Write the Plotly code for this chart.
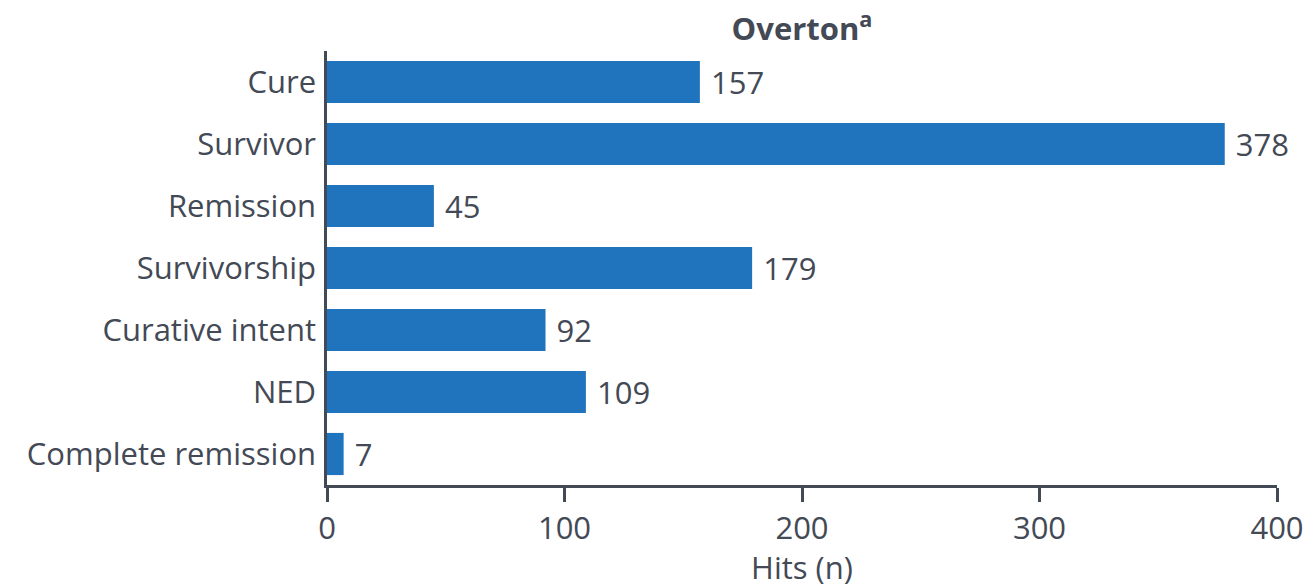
import plotly.graph_objects as go

categories = ["Cure", "Survivor", "Remission", "Survivorship", "Curative intent", "NED", "Complete remission"]
hits = [157, 378, 45, 179, 92, 109, 7]
tick_vals = [0, 100, 200, 300, 400]

text_color = "#434955"
bar_color = "#1f74bd"
font_family = "Open Sans"
fs = 31

fig = go.Figure(go.Bar(
    x=hits, y=categories, orientation="h",
    marker=dict(color=bar_color, line=dict(width=0)),
    text=[" " + str(v) for v in hits], textposition="outside",
    textfont=dict(size=fs, color=text_color, family=font_family),
    cliponaxis=False,
))

fig.update_layout(
    width=1304, height=588,
    margin=dict(l=327, r=27, t=51, b=103),
    paper_bgcolor="white", plot_bgcolor="white",
    font=dict(family=font_family, size=fs, color=text_color),
    bargap=0.32,
    showlegend=False,
    title=dict(text="<b>Overton<sup>a</sup></b>", x=0.5, xref="paper", xanchor="center",
               y=0.95, yanchor="middle", font=dict(size=fs, color=text_color, family=font_family)),
    xaxis=dict(range=[0, 400], tickvals=tick_vals, showgrid=False, zeroline=False,
               showline=True, linecolor=text_color, linewidth=2.5, automargin=False,
               ticks="outside", ticklen=14, tickwidth=2.5, tickcolor=text_color,
               tickfont=dict(size=fs, color=text_color),
               title=dict(text="Hits (n)", font=dict(size=fs, color=text_color), standoff=8)),
    yaxis=dict(categoryorder="array", categoryarray=categories, autorange="reversed",
               showgrid=False, zeroline=False, showline=True, linecolor=text_color, linewidth=2.5,
               automargin=False, ticks="", ticklabelstandoff=2,
               tickfont=dict(size=fs, color=text_color)),
)

fig.write_html("out.html")
